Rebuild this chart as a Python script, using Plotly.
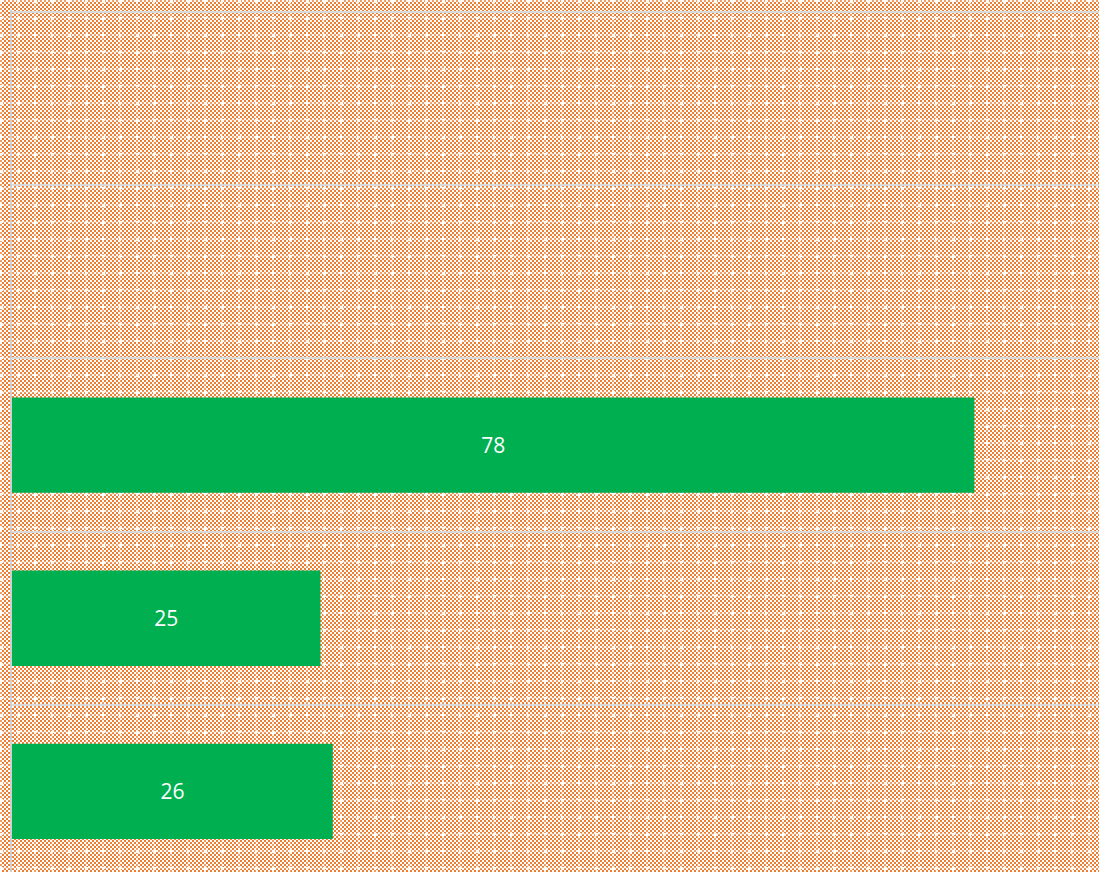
import base64
import struct
import zlib

import numpy as np
import plotly.graph_objects as go

# ---- data ----
categories = ["Category 1", "Category 2", "Category 3", "Category 4", "Category 5"]
values = [26, 25, 78, None, None]
labels = ["26", "25", "78", "", ""]

W, H = 1099, 872
L, T = 12, 10


# ---- background pattern (orange checker with light dots), as a PNG data URI ----
def pattern_png(w, h):
    yy, xx = np.mgrid[0:h, 0:w]
    checker = ((xx // 2 + yy // 2) % 2) == 0
    orange = np.array([237, 125, 49], dtype=float)
    white = np.array([255, 255, 255], dtype=float)
    img = np.where(checker[..., None], orange, white)
    px = 17
    mx = xx % px
    my = yy % px
    lx = mx < 2
    ly = my < 2
    band = lx | ly
    light = img * 0.75 + white * 0.25
    img = np.where(band[..., None], light, img)
    dot = (((mx - 0.5) ** 2 + (my - 0.5) ** 2) < 3.0)
    img = np.where(dot[..., None], white, img)
    img = img.astype(np.uint8)
    raw = b"".join(b"\x00" + img[r].tobytes() for r in range(h))

    def chunk(tag, data):
        c = struct.pack(">I", len(data)) + tag + data
        return c + struct.pack(">I", zlib.crc32(tag + data) & 0xFFFFFFFF)

    png = b"\x89PNG\r\n\x1a\n"
    png += chunk(b"IHDR", struct.pack(">IIBBBBB", w, h, 8, 2, 0, 0, 0))
    png += chunk(b"IDAT", zlib.compress(raw, 9))
    png += chunk(b"IEND", b"")
    return "data:image/png;base64," + base64.b64encode(png).decode()


bg = pattern_png(W, H)

fig = go.Figure()
fig.add_trace(
    go.Bar(
        y=categories,
        x=values,
        orientation="h",
        marker=dict(color="#00B050", line=dict(width=0)),
        width=0.55,
        text=labels,
        textposition="inside",
        insidetextanchor="middle",
        textfont=dict(color="white", size=21, family="Open Sans"),
        hoverinfo="skip",
    )
)

pw, ph = W - L, H - T
fig.update_layout(
    width=W,
    height=H,
    margin=dict(l=L, r=0, t=T, b=0, pad=0),
    paper_bgcolor="rgba(0,0,0,0)",
    plot_bgcolor="rgba(0,0,0,0)",
    showlegend=False,
    bargap=0.45,
    images=[
        dict(
            source=bg,
            xref="paper",
            yref="paper",
            x=-L / pw,
            y=1 + T / ph,
            sizex=W / pw,
            sizey=H / ph,
            xanchor="left",
            yanchor="top",
            sizing="stretch",
            layer="below",
        )
    ],
    xaxis=dict(
        range=[0, 88.1],
        showgrid=False,
        zeroline=False,
        showticklabels=False,
        ticks="",
        showline=False,
    ),
    yaxis=dict(
        type="category",
        categoryorder="array",
        categoryarray=categories,
        range=[-0.465, 4.5 + 2 / 173],
        tickson="boundaries",
        showgrid=True,
        gridcolor="#D9D9D9",
        gridwidth=2,
        showticklabels=False,
        ticks="",
        showline=True,
        linecolor="#D0D0D0",
        linewidth=2,
        zeroline=False,
    ),
)

fig.write_html(
    "out.html",
    config={"displayModeBar": False},
    post_script="document.body.style.margin='0';document.body.style.overflow='hidden';",
)
